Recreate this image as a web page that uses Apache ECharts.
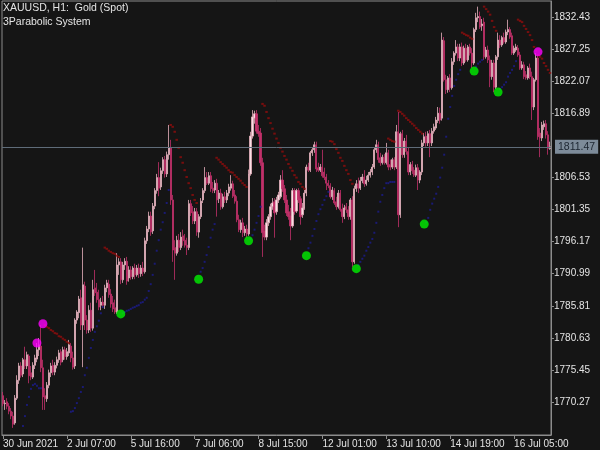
<!DOCTYPE html>
<html><head><meta charset="utf-8">
<script src="https://cdn.jsdelivr.net/npm/echarts@6/dist/echarts.min.js"></script>
<style>html,body{margin:0;padding:0;background:#151515}#c{width:600px;height:450px}</style>
</head><body><div id="c"></div>
<script>
const chartTitle = 'XAUUSD, H1:  Gold (Spot)';
const indicatorName = '3Parabolic System';
const timeLabelIdx = [0, 32, 64, 96, 128, 160, 192, 224, 256];
const timeLabels = ['30 Jun 2021', '2 Jul 07:00', '5 Jul 16:00', '7 Jul 06:00', '8 Jul 15:00', '12 Jul 01:00', '13 Jul 10:00', '14 Jul 19:00', '16 Jul 05:00'];
const priceTicks = [1770.27, 1775.45, 1780.63, 1785.81, 1790.99, 1796.17, 1801.35, 1806.53, 1816.89, 1822.07, 1827.25, 1832.43];
const bidPrice = 1811.47;
const yMin = 1764.95, yMax = 1835.01;

const opens = [
1771.3,1770.0,1770.3,1769.6,1768.8,1768.0,1766.9,1770.9,1773.8,1776.1,
1774.8,1777.1,1776.1,1777.7,1775.0,1774.3,1776.2,1777.2,1778.7,1779.3,
1775.8,1771.3,1770.8,1773.0,1775.0,1776.2,1775.1,1776.2,1777.1,1778.4,
1777.1,1778.7,1777.6,1778.2,1779.3,1777.4,1776.1,1783.5,1784.7,1787.1,
1782.7,1789.0,1783.5,1781.9,1785.1,1782.2,1788.7,1788.0,1786.8,1785.9,
1786.4,1785.9,1788.7,1789.3,1787.7,1786.3,1785.5,1784.8,1792.4,1792.9,
1790.0,1792.4,1793.0,1790.3,1791.6,1790.5,1791.9,1790.8,1791.9,1791.0,
1791.9,1791.3,1796.3,1798.2,1800.3,1797.9,1801.9,1804.4,1806.5,1805.0,
1807.6,1809.4,1807.1,1810.2,1811.3,1802.9,1795.2,1794.3,1796.4,1795.2,
1797.1,1796.4,1795.6,1795.2,1802.3,1801.0,1799.5,1801.0,1797.7,1800.2,
1802.9,1804.4,1806.5,1805.6,1806.8,1804.8,1804.5,1805.6,1803.1,1804.0,
1801.8,1803.4,1802.9,1804.0,1804.8,1805.5,1803.7,1802.7,1799.7,1798.1,
1799.2,1797.6,1798.2,1797.4,1807.1,1813.2,1816.1,1816.8,1814.0,1813.7,
1808.9,1797.9,1796.9,1799.2,1800.2,1801.8,1802.6,1801.0,1802.9,1803.4,
1806.1,1804.7,1802.9,1801.0,1800.3,1798.7,1804.4,1801.1,1804.4,1803.1,
1800.5,1801.6,1804.0,1808.2,1807.7,1810.5,1811.0,1811.8,1808.1,1807.7,
1808.2,1807.4,1806.6,1805.6,1805.2,1803.4,1804.4,1802.6,1801.8,1804.0,
1801.4,1800.2,1801.8,1801.3,1800.2,1802.9,1792.9,1804.7,1805.5,1804.8,
1806.0,1806.6,1805.5,1806.1,1806.9,1807.4,1808.2,1811.0,1811.8,1809.7,
1808.9,1809.8,1808.9,1810.5,1808.6,1808.2,1809.4,1808.2,1813.9,1800.5,
1813.6,1810.2,1812.4,1810.7,1807.4,1808.6,1807.7,1806.9,1808.1,1806.1,
1807.4,1812.1,1813.2,1812.1,1813.6,1812.1,1814.0,1814.5,1815.7,1816.9,
1816.1,1828.6,1822.3,1820.7,1822.6,1821.0,1825.2,1826.6,1827.6,1825.8,
1827.6,1825.0,1827.4,1825.5,1827.6,1826.6,1825.0,1830.4,1832.3,1832.5,
1831.0,1831.6,1826.0,1827.1,1825.5,1822.8,1825.0,1821.1,1826.0,1828.7,
1827.9,1829.1,1828.4,1830.0,1830.4,1829.4,1826.6,1827.1,1827.4,1826.3,
1824.2,1824.7,1823.1,1822.6,1824.2,1822.8,1817.9,1822.3,1825.8,1813.7,
1812.9,1814.7,1815.2,1813.4,1811.2];
const highs = [
1771.9,1770.6,1770.9,1770.1,1769.3,1768.7,1771.4,1774.6,1776.6,1776.7,
1777.4,1779.2,1778.4,1778.0,1776.1,1776.7,1777.9,1779.8,1780.6,1782.7,
1777.1,1772.5,1773.5,1775.5,1776.6,1777.1,1776.7,1777.6,1778.7,1778.8,
1779.2,1779.2,1779.0,1780.3,1779.8,1778.4,1783.8,1785.1,1787.4,1788.4,
1795.2,1789.7,1784.3,1785.9,1786.3,1790.0,1791.6,1789.5,1788.4,1787.1,
1787.4,1789.2,1790.0,1790.0,1788.5,1787.4,1786.8,1794.3,1793.5,1793.5,
1792.9,1793.5,1793.7,1792.2,1792.2,1792.2,1792.6,1792.4,1792.6,1792.4,
1792.9,1796.8,1798.7,1801.0,1801.0,1802.4,1804.8,1807.1,1809.0,1808.1,
1809.8,1810.0,1810.7,1815.0,1812.6,1803.7,1796.4,1797.1,1797.4,1797.7,
1798.1,1797.4,1796.8,1802.9,1802.9,1801.9,1801.6,1801.6,1800.6,1803.2,
1804.8,1808.2,1807.4,1807.4,1807.4,1805.8,1806.1,1806.3,1804.5,1804.7,
1803.9,1804.2,1804.5,1805.5,1806.9,1806.0,1804.5,1803.5,1800.5,1799.7,
1800.0,1798.7,1798.9,1807.8,1813.9,1817.4,1817.3,1817.4,1815.0,1814.5,
1809.7,1798.9,1799.8,1800.6,1802.3,1803.2,1803.2,1803.4,1804.2,1806.9,
1807.7,1805.3,1803.7,1802.1,1801.6,1804.8,1804.8,1804.7,1804.8,1803.5,
1802.4,1804.5,1808.6,1808.9,1810.8,1811.3,1812.3,1812.3,1808.9,1808.7,
1811.0,1808.1,1807.1,1806.1,1805.6,1805.0,1804.8,1803.4,1804.5,1804.5,
1802.3,1802.1,1802.4,1801.9,1803.2,1803.5,1805.2,1806.1,1806.5,1806.6,
1807.1,1807.7,1806.8,1807.4,1807.9,1808.7,1811.3,1812.6,1812.3,1810.5,
1810.2,1810.3,1812.1,1811.0,1809.4,1809.7,1809.8,1815.0,1817.1,1813.9,
1814.2,1812.9,1813.4,1811.3,1809.0,1809.2,1808.2,1808.6,1808.7,1807.7,
1812.6,1813.7,1813.9,1814.0,1814.2,1814.5,1815.2,1816.3,1817.9,1817.8,
1829.9,1829.2,1823.1,1822.9,1823.2,1825.8,1826.9,1828.7,1828.1,1828.1,
1828.3,1827.8,1828.1,1827.9,1828.1,1827.4,1830.7,1833.1,1834.1,1833.3,
1832.1,1832.3,1827.6,1827.8,1826.2,1825.5,1825.5,1826.3,1829.9,1829.5,
1829.4,1829.9,1830.4,1832.0,1830.8,1829.9,1827.8,1828.1,1827.9,1826.8,
1825.3,1825.2,1823.7,1824.5,1824.9,1823.6,1822.6,1826.6,1826.3,1814.5,
1815.5,1815.7,1815.8,1814.0,1812.3];
const lows = [
1769.6,1769.0,1769.1,1768.3,1767.5,1766.1,1766.6,1770.6,1773.2,1774.2,
1774.3,1775.6,1775.6,1773.3,1773.8,1774.0,1775.6,1776.7,1777.7,1775.1,
1769.0,1769.0,1770.3,1772.5,1774.3,1774.6,1774.6,1775.7,1776.6,1776.2,
1776.7,1777.1,1777.1,1777.7,1776.7,1775.5,1775.6,1782.9,1783.8,1781.9,
1775.9,1781.9,1781.3,1781.4,1781.6,1781.8,1787.4,1786.3,1785.1,1785.1,
1785.5,1785.3,1788.0,1787.1,1785.5,1784.8,1784.5,1784.5,1790.8,1789.3,
1789.5,1791.6,1789.2,1789.7,1790.0,1790.1,1790.1,1790.5,1790.3,1790.5,
1790.6,1791.0,1795.8,1797.7,1797.1,1797.4,1801.4,1803.9,1803.5,1804.5,
1807.1,1806.5,1806.6,1809.4,1802.1,1792.9,1790.0,1793.9,1794.5,1794.8,
1795.5,1795.2,1794.0,1794.8,1800.3,1799.0,1799.0,1797.1,1796.8,1799.8,
1802.4,1804.0,1805.3,1805.3,1804.2,1804.0,1804.0,1800.2,1802.4,1801.3,
1801.5,1802.4,1802.4,1803.5,1804.4,1803.2,1802.3,1799.3,1797.7,1797.6,
1796.9,1797.1,1796.8,1797.1,1806.8,1812.8,1815.2,1813.6,1813.1,1808.4,
1793.7,1796.4,1796.4,1798.7,1799.7,1801.3,1796.8,1800.5,1802.4,1803.1,
1804.2,1802.4,1800.3,1799.7,1796.4,1798.4,1800.5,1800.8,1802.4,1798.9,
1800.0,1801.3,1803.5,1807.4,1807.4,1810.0,1810.5,1807.4,1807.4,1807.4,
1806.5,1806.1,1804.5,1804.8,1803.1,1802.9,1802.1,1801.3,1801.5,1801.0,
1799.2,1799.8,1800.8,1799.7,1799.7,1792.1,1792.6,1804.2,1804.0,1804.5,
1805.6,1805.0,1805.2,1805.8,1806.5,1806.9,1807.9,1810.5,1808.9,1808.4,
1808.6,1808.6,1808.6,1807.7,1807.7,1807.9,1807.7,1807.9,1798.5,1800.0,
1809.7,1809.7,1810.2,1806.9,1806.9,1807.1,1806.6,1806.6,1804.5,1805.6,
1806.9,1811.6,1811.5,1811.6,1809.8,1811.6,1813.6,1814.2,1815.3,1815.2,
1815.7,1822.0,1820.0,1820.2,1820.3,1820.7,1824.7,1826.2,1825.3,1825.3,
1824.5,1824.7,1825.2,1825.2,1826.2,1824.2,1824.7,1830.0,1831.6,1830.5,
1830.2,1825.5,1825.7,1825.0,1821.1,1822.3,1820.3,1820.8,1825.5,1827.4,
1827.6,1828.1,1828.1,1829.5,1828.9,1826.3,1826.3,1826.8,1826.0,1823.9,
1823.9,1822.4,1822.3,1822.3,1822.4,1815.8,1817.4,1822.0,1812.6,1809.8,
1812.4,1814.2,1812.8,1810.2,1811.0];
const closes = [
1770.0,1770.1,1769.6,1768.8,1768.0,1766.7,1770.9,1773.8,1776.1,1774.6,
1777.1,1776.1,1777.9,1774.5,1774.3,1776.2,1777.4,1778.7,1779.5,1775.8,
1771.1,1770.8,1773.0,1775.0,1776.1,1775.1,1776.2,1777.1,1778.2,1776.7,
1778.7,1777.6,1778.4,1779.5,1777.4,1775.9,1783.5,1784.8,1786.9,1782.7,
1789.2,1783.5,1781.9,1785.1,1782.2,1788.4,1787.9,1786.8,1785.6,1786.4,
1785.9,1788.7,1789.5,1787.6,1786.1,1785.3,1784.8,1792.4,1792.9,1790.0,
1792.4,1793.0,1789.8,1791.6,1790.5,1791.9,1790.8,1791.9,1791.0,1791.9,
1791.3,1796.3,1798.2,1800.3,1797.7,1801.9,1804.4,1806.5,1804.8,1807.6,
1809.4,1807.1,1810.2,1811.3,1802.9,1794.8,1794.3,1796.4,1795.2,1796.9,
1796.3,1795.6,1795.2,1802.3,1800.8,1799.5,1801.0,1797.7,1800.2,1802.7,
1804.4,1806.5,1805.6,1806.8,1804.7,1804.4,1805.6,1802.9,1804.0,1801.8,
1803.4,1802.9,1804.0,1805.0,1805.5,1803.5,1802.7,1799.7,1798.1,1799.2,
1797.6,1798.2,1797.4,1807.1,1813.2,1816.3,1816.8,1814.0,1813.6,1808.9,
1797.6,1796.9,1799.2,1800.2,1801.8,1802.4,1800.8,1802.9,1803.7,1806.1,
1804.7,1802.9,1800.8,1800.2,1798.7,1804.4,1801.0,1804.4,1802.9,1800.2,
1801.6,1804.0,1808.2,1807.7,1810.5,1811.0,1811.8,1807.9,1807.7,1808.2,
1806.8,1806.5,1805.6,1805.2,1803.4,1804.5,1802.4,1801.8,1804.0,1801.3,
1800.2,1801.6,1801.3,1800.2,1802.9,1792.9,1804.7,1805.5,1804.8,1806.0,
1806.6,1805.5,1806.1,1806.9,1807.4,1808.2,1811.0,1811.8,1809.4,1808.9,
1809.8,1808.9,1810.5,1808.2,1808.2,1809.4,1808.2,1813.9,1800.5,1813.6,
1810.2,1812.4,1810.7,1807.4,1808.6,1807.6,1806.9,1808.1,1806.1,1807.4,
1812.1,1813.1,1812.1,1813.6,1812.1,1814.0,1814.7,1815.8,1816.9,1815.8,
1828.7,1822.3,1820.7,1822.6,1821.0,1825.2,1826.6,1827.6,1825.8,1827.6,
1825.0,1827.4,1825.5,1827.6,1826.6,1825.0,1830.4,1832.3,1832.5,1830.8,
1831.3,1826.0,1827.1,1825.5,1822.8,1825.0,1821.1,1826.0,1828.7,1827.9,
1829.1,1828.4,1830.0,1830.4,1829.2,1826.6,1827.4,1827.6,1826.3,1824.2,
1824.7,1822.8,1822.6,1824.2,1822.8,1817.9,1822.3,1825.8,1813.1,1812.9,
1815.0,1815.2,1813.4,1811.2,1811.47];

// Parabolic SAR dots: segment start bar + values
const sarUpStarts = [10, 34, 60, 99, 124, 153, 178, 212, 237, 249];
const sarUpValues = [
[1766.4,1768.0,1769.8,1771.1,1772.4,1773.0,1773.2,1772.9,1772.5,1772.5],
[1768.7,1768.8,1769.3,1770.1,1770.9,1771.9,1772.7,1774.6,1775.8,1777.4,1779.0,1780.3,1781.6,1782.5,1783.4,1784.6,1785.6],
[1784.6,1784.8,1785.0,1785.1,1785.3,1785.5,1785.6,1785.8,1785.9,1786.3,1786.4,1786.8,1787.1,1788.2,1789.3,1790.8,1792.6,1794.7,1796.4,1798.1,1799.3,1800.8,1802.4,1804.5],
[1791.3,1791.9,1792.9,1794.0,1795.3,1796.8,1798.1,1799.0],
[1796.6,1797.2,1798.1,1799.2,1800.3,1801.8],
[1795.1,1796.0,1797.1,1798.2,1799.5,1800.6,1801.4,1802.1,1802.9,1803.5,1804.2],
[1792.4,1792.9,1793.4,1793.9,1794.7,1795.3,1796.0,1796.6,1797.6,1799.2,1801.0,1802.6,1803.7,1804.8,1805.6,1805.6,1805.8,1805.8,1805.8],
[1799.3,1800.0,1801.3,1802.3,1803.1,1803.9,1805.0,1806.5,1808.1,1810.2,1813.1,1816.0,1817.9,1819.7,1821.3,1822.3,1823.2,1823.9],
[1824.4,1824.9,1825.2,1825.5],
[1820.8,1821.1,1821.5,1821.9,1822.8,1823.4,1823.9,1824.5,1825.3]];
const sarDownStarts = [21, 51, 84, 107, 130, 164, 193, 198, 230, 241, 258];
const sarDownValues = [
[1782.7,1782.4,1782.2,1781.9,1781.7,1781.4,1781.3,1780.9,1780.8,1780.5,1780.3,1780.0,1779.8],
[1795.2,1795.0,1794.7,1794.5,1794.3,1794.2,1793.9,1793.7],
[1815.0,1814.7,1813.9,1812.6,1811.3,1809.8,1808.9,1807.7,1806.6,1805.6,1804.8,1803.7,1802.9,1802.4],
[1809.7,1809.4,1809.0,1808.7,1808.4,1808.1,1807.7,1807.4,1807.3,1806.9,1806.6,1806.3,1806.0,1805.6,1805.3,1805.0],
[1818.4,1818.1,1817.1,1816.1,1815.3,1814.4,1813.6,1812.8,1812.1,1811.3,1810.7,1810.0,1809.4,1808.7,1808.1,1807.6,1806.9,1806.5,1805.8,1805.5,1805.0,1804.7],
[1812.4,1812.3,1811.9,1811.1,1810.5,1809.7,1809.2,1808.4,1807.7,1807.1,1806.1,1805.5],
[1812.8,1812.6,1812.4,1812.3],
[1817.3,1817.1,1816.8,1816.5,1816.1,1815.8,1815.5,1815.2,1814.9,1814.5,1814.2,1813.9,1813.6],
[1829.9,1829.7,1829.5,1829.4,1829.1,1828.9],
[1834.1,1833.7,1833.3,1832.8,1831.8,1830.8,1830.2],
[1832.0,1831.8,1831.6,1831.0,1830.5,1830.0,1829.5,1828.7,1827.6,1827.0,1826.3,1826.0,1825.7,1825.0,1824.5,1823.9,1823.4]];
const buyIdx = [59, 98, 123, 152, 177, 211, 236, 248];
const buyVals = [1784.5, 1790.1, 1796.3, 1793.9, 1791.8, 1799.0, 1823.7, 1820.3];
const sellIdx = [17, 20, 268];
const sellVals = [1779.8, 1782.9, 1826.8];

const FONT = 'Liberation Sans, Arial, sans-serif';
const TXT = '#e4e4e4';
const cats = opens.map((_, i) => String(i));
const candles = opens.map((o, i) => [o, closes[i], lows[i], highs[i]]);
function segPoints(starts, vals) {
  const out = [];
  starts.forEach((s, k) => vals[k].forEach((v, j) => out.push([s + j, v])));
  return out;
}

const chart = echarts.init(document.getElementById('c'), null, {renderer: 'canvas'});
chart.setOption({
  animation: false,
  backgroundColor: '#151515',
  title: {
    text: chartTitle, subtext: indicatorName, left: 3, top: 3, padding: 0, itemGap: 3,
    textStyle: {color: TXT, fontSize: 10.5, fontWeight: 'normal', fontFamily: FONT, lineHeight: 11},
    subtextStyle: {color: TXT, fontSize: 10.5, fontFamily: FONT, lineHeight: 11}
  },
  grid: {left: 1, right: 49, top: 1, bottom: 15, show: true, borderColor: '#8c8c8c', borderWidth: 1, backgroundColor: 'transparent'},
  xAxis: {
    type: 'category', data: cats, boundaryGap: true,
    axisLine: {show: true, lineStyle: {color: '#8c8c8c'}},
    axisTick: {show: true, alignWithLabel: true, length: 4, lineStyle: {color: '#8c8c8c'},
      interval: (i) => timeLabelIdx.indexOf(i) >= 0},
    axisLabel: {
      color: TXT, fontSize: 10, fontFamily: FONT, align: 'left', margin: 4,
      interval: (i) => timeLabelIdx.indexOf(i) >= 0,
      formatter: (v) => { const k = timeLabelIdx.indexOf(+v); return k >= 0 ? timeLabels[k] : ''; }
    },
    splitLine: {show: false}
  },
  yAxis: {
    type: 'value', position: 'right', min: yMin, max: yMax, scale: true,
    axisLine: {show: true, lineStyle: {color: '#8c8c8c'}},
    axisTick: {show: true, length: 3, customValues: priceTicks, lineStyle: {color: '#8c8c8c'}},
    axisLabel: {show: true, customValues: priceTicks, color: TXT, fontSize: 10, fontFamily: FONT, margin: 3,
      formatter: (v) => v.toFixed(2)},
    splitLine: {show: false}
  },
  series: [
    {
      type: 'candlestick', data: candles, barWidth: 1.6, z: 2,
      itemStyle: {color: '#f8e0e5', color0: '#c2306a', borderColor: '#e6b0bd', borderColor0: '#c2306a', borderWidth: 0.8},
      markLine: {
        silent: true, symbol: 'none', animation: false,
        lineStyle: {color: '#5f6c79', width: 1, type: 'solid'},
        label: {show: true, position: 'end', distance: 4, formatter: bidPrice.toFixed(2),
          color: '#1c2530', backgroundColor: '#7d8b99', padding: [2, 3, 1, 3], fontSize: 10.5, fontFamily: FONT},
        data: [{yAxis: bidPrice}]
      }
    },
    {type: 'scatter', data: segPoints(sarUpStarts, sarUpValues), symbol: 'rect', symbolSize: [2, 2],
      itemStyle: {color: '#1c1c8c'}, z: 3, silent: true},
    {type: 'scatter', data: segPoints(sarDownStarts, sarDownValues), symbol: 'rect', symbolSize: [2.5, 2],
      itemStyle: {color: '#900c0c'}, z: 3, silent: true},
    {type: 'scatter', data: buyIdx.map((i, k) => [i, buyVals[k]]), symbol: 'circle', symbolSize: 9,
      itemStyle: {color: '#00f000'}, z: 5, silent: true},
    {type: 'scatter', data: sellIdx.map((i, k) => [i, sellVals[k]]), symbol: 'circle', symbolSize: 9,
      itemStyle: {color: '#ff00ff'}, z: 5, silent: true}
  ]
});
</script>
</body></html>
